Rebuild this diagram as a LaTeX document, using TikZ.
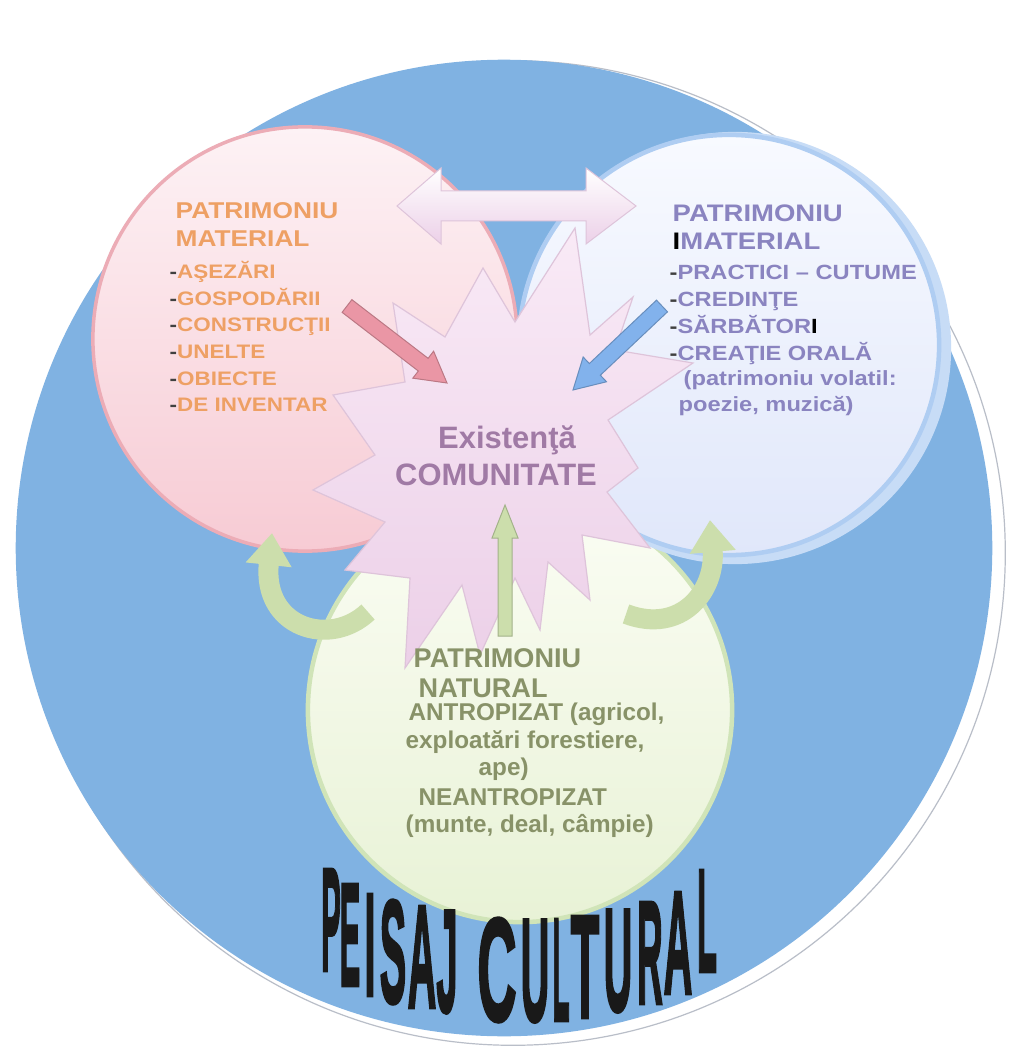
\documentclass[tikz,border=0pt]{standalone}
\usepackage{fontspec}
\setmainfont{Liberation Sans}
\newfontfamily\widefont{Liberation Sans}[FakeStretch=1.15]
\newfontfamily\heavyfont{Liberation Sans}[FakeBold=2.5]
\usetikzlibrary{arrows.meta, calc}
\definecolor{skyblue}{RGB}{128,178,226}
\definecolor{halogray}{RGB}{185,190,200}
\definecolor{pinkrim}{RGB}{236,172,182}
\definecolor{pinktop}{RGB}{253,242,245}
\definecolor{pinkbot}{RGB}{247,203,212}
\definecolor{lilactop}{RGB}{248,250,255}
\definecolor{lilacbot}{RGB}{224,231,250}
\definecolor{lilacrim}{RGB}{175,205,242}
\definecolor{leaftop}{RGB}{251,253,244}
\definecolor{leafbot}{RGB}{232,242,214}
\definecolor{leafrim}{RGB}{208,228,184}
\definecolor{bursttop}{RGB}{249,234,246}
\definecolor{burstbot}{RGB}{236,208,232}
\definecolor{burstrim}{RGB}{222,196,218}
\definecolor{matorange}{RGB}{238,160,100}
\definecolor{imlilac}{RGB}{138,132,192}
\definecolor{natolive}{RGB}{136,146,104}
\definecolor{commauve}{RGB}{160,122,165}
\definecolor{redarrow}{RGB}{234,150,165}
\definecolor{bluearrow}{RGB}{130,178,236}
\definecolor{greenarrow}{RGB}{204,222,172}

\newcommand{\dsh}{\textcolor{black!75}{-}}
% block arrow: style, tail, tip, shaft half width, head half width, head length
\newcommand{\blockarrow}[6]{%
  \coordinate (ba-neck) at ($(#3)!#6!(#2)$);
  \draw[#1] ($(#2)!#4!90:(#3)$) -- ($(ba-neck)!#4!90:(#3)$) -- ($(ba-neck)!#5!90:(#3)$) -- (#3)
    -- ($(ba-neck)!#5!-90:(#3)$) -- ($(ba-neck)!#4!-90:(#3)$) -- ($(#2)!#4!-90:(#3)$) -- cycle;}

\tikzset{
  mathead/.style={font=\widefont\bfseries\fontsize{6.5pt}{7pt}\selectfont, text=matorange, inner sep=0, anchor=base west},
  matitem/.style={font=\widefont\bfseries\fontsize{5.55pt}{6pt}\selectfont, text=matorange, inner sep=0, anchor=base west},
  imhead/.style={font=\widefont\bfseries\fontsize{6.8pt}{7pt}\selectfont, text=imlilac, inner sep=0, anchor=base west},
  imitem/.style={font=\widefont\bfseries\fontsize{5.85pt}{6pt}\selectfont, text=imlilac, inner sep=0, anchor=base west},
  nathead/.style={font=\bfseries\fontsize{7.7pt}{8pt}\selectfont, text=natolive, inner sep=0, anchor=base west},
  natitem/.style={font=\bfseries\fontsize{6.9pt}{7pt}\selectfont, text=natolive, inner sep=0, anchor=base west},
  comtext/.style={font=\bfseries\fontsize{8.8pt}{9pt}\selectfont, text=commauve, inner sep=0, anchor=base},
  peisaj/.style={font=\heavyfont\bfseries\fontsize{41.7pt}{42pt}\selectfont, text=black!90, inner sep=0},
  matdisc/.style={top color=pinktop, bottom color=pinkbot, draw=pinkrim, line width=0.035cm},
  imdisc/.style={top color=lilactop, bottom color=lilacbot, draw=lilacrim, line width=0.045cm},
  natdisc/.style={top color=leaftop, bottom color=leafbot, draw=leafrim, line width=0.045cm},
  burststyle/.style={top color=bursttop, bottom color=burstbot, draw=burstrim, line width=0.012cm},
  twinarrow/.style={top color=white, bottom color=burstbot, draw=burstrim, line width=0.01cm},
  swirl/.style={draw=greenarrow, line width=0.2cm, line cap=butt, -{Triangle[length=0.32cm, width=0.44cm]}},
}

\begin{document}
\begin{tikzpicture}[x=0.01cm, y=-0.01cm]
  \useasboundingbox (0,0) rectangle (1015,1049);
  \fill[white] (0,0) rectangle (1015,1049);

  % background discs
  \draw[fill=white, draw=halogray, line width=0.012cm] (513,553) circle (4.92cm);
  \fill[skyblue] (504,548) circle (4.88cm);
  \coordinate (matc) at (305,339);
  \coordinate (imc) at (729,345);
  \coordinate (natc) at (520,710);
  \draw[natdisc] (natc) circle (2.12cm);
  \fill[lilacrim!70] ($(imc)+(6,3)$) circle (2.16cm);
  \draw[imdisc] (imc) circle (2.10cm);
  \draw[matdisc] (matc) circle (2.12cm);

  % the burst in the middle
  \coordinate (core) at (500,448);
  \draw[burststyle] (575,228) -- (590,335) -- (633,297) -- (615,350) -- (693,363) -- (608,420)
    -- (638,468) -- (607,492) -- (650,548) -- (582,535) -- (590,600) -- (548,562) -- (540,630)
    -- (515,578) -- (480,655) -- (462,585) -- (405,668) -- (410,578) -- (345,570) -- (385,522)
    -- (313,490) -- (375,455) -- (333,395) -- (405,382) -- (393,303) -- (445,337) -- (483,268)
    -- (515,322) -- cycle;

  % double arrow between the two upper discs
  \coordinate (dl) at (397,206);
  \coordinate (dr) at (636,206);
  \draw[twinarrow] (dl) -- ($(dl)+(44,-38)$) -- ($(dl)+(44,-15)$) -- ($(dr)+(-50,-15)$)
    -- ($(dr)+(-50,-38)$) -- (dr) -- ($(dr)+(-50,38)$) -- ($(dr)+(-50,15)$)
    -- ($(dl)+(44,15)$) -- ($(dl)+(44,38)$) -- cycle;

  % arrows into the burst
  \coordinate (redtail) at (347,306);
  \coordinate (redtip) at (447,383);
  \coordinate (bluetail) at (662,306);
  \coordinate (bluetip) at (573,390);
  \coordinate (greentail) at (505,636);
  \coordinate (greentip) at (505,505);
  \blockarrow{fill=redarrow, draw=redarrow!80!black, line width=0.01cm}{redtail}{redtip}{0.08cm}{0.17cm}{0.30cm}
  \blockarrow{fill=bluearrow, draw=bluearrow!80!black, line width=0.01cm}{bluetail}{bluetip}{0.08cm}{0.17cm}{0.30cm}
  \blockarrow{fill=greenarrow, draw=greenarrow!80!black, line width=0.01cm}{greentail}{greentip}{0.07cm}{0.13cm}{0.33cm}

  % curved arrows
  \coordinate (swl0) at (368,612);
  \coordinate (swl1) at (272,533);
  \coordinate (swr0) at (626,614);
  \coordinate (swr1) at (710,520);
  \draw[swirl] (swl0) .. controls (330,648) and (262,628) .. (swl1);
  \draw[swirl] (swr0) .. controls (682,635) and (716,590) .. (swr1);

  % texts
  \node[mathead] (mat-t1) at (175,219) {PATRIMONIU};
  \node[mathead] (mat-t2) at (175,247) {MATERIAL};
  \foreach \t [count=\i] in {AŞEZĂRI, GOSPODĂRII, CONSTRUCŢII, UNELTE, OBIECTE, DE INVENTAR}
    \node[matitem] (mat\i) at (169,252.5+26.5*\i) {\dsh\t};

  \node[imhead] (im-t1) at (672,222) {PATRIMONIU};
  \node[imhead] (im-t2) at (672,250) {\textcolor{black}{I}MATERIAL};
  \foreach \t [count=\i] in {PRACTICI – CUTUME, CREDINŢE, SĂRBĂTOR\textcolor{black}{I}, CREAŢIE ORALĂ}
    \node[imitem] (im\i) at (669,253+26.8*\i) {\dsh\t};
  \node[imitem] (im5) at (683,385) {(patrimoniu volatil:};
  \node[imitem] (im6) at (678,411) {poezie, muzică)};

  \node[comtext] (com1) at (507,448) {Existenţă};
  \node[comtext] (com2) at (496,485) {COMUNITATE};

  \node[nathead] (nat-t1) at (413,667) {PATRIMONIU};
  \node[nathead] (nat-t2) at (418,697) {NATURAL};
  \node[natitem] (nat1) at (408,720) {ANTROPIZAT (agricol,};
  \node[natitem] (nat2) at (405,748) {exploatări forestiere,};
  \node[natitem] (nat3) at (478,775) {ape)};
  \node[natitem] (nat4) at (418,805) {NEANTROPIZAT};
  \node[natitem] (nat5) at (405,832) {(munte, deal, câmpie)};

  % title along the bottom
  \foreach \c/\x/\y/\s [count=\k] in {P/331/920/0.20, E/350/935/0.21, I/370/945/0.28, S/393/952/0.27,
      A/422/957/0.27, J/447/962/0.26, C/497/970/0.37, U/535/971/0.27, L/561/970/0.19,
      T/585/967/0.32, U/618/961/0.27, R/650/953/0.24, A/678/943/0.27, L/707/921/0.22}
    \node[peisaj] (pc\k) at (\x,\y) {\scalebox{\s}[1]{\c}};
\end{tikzpicture}
\end{document}
